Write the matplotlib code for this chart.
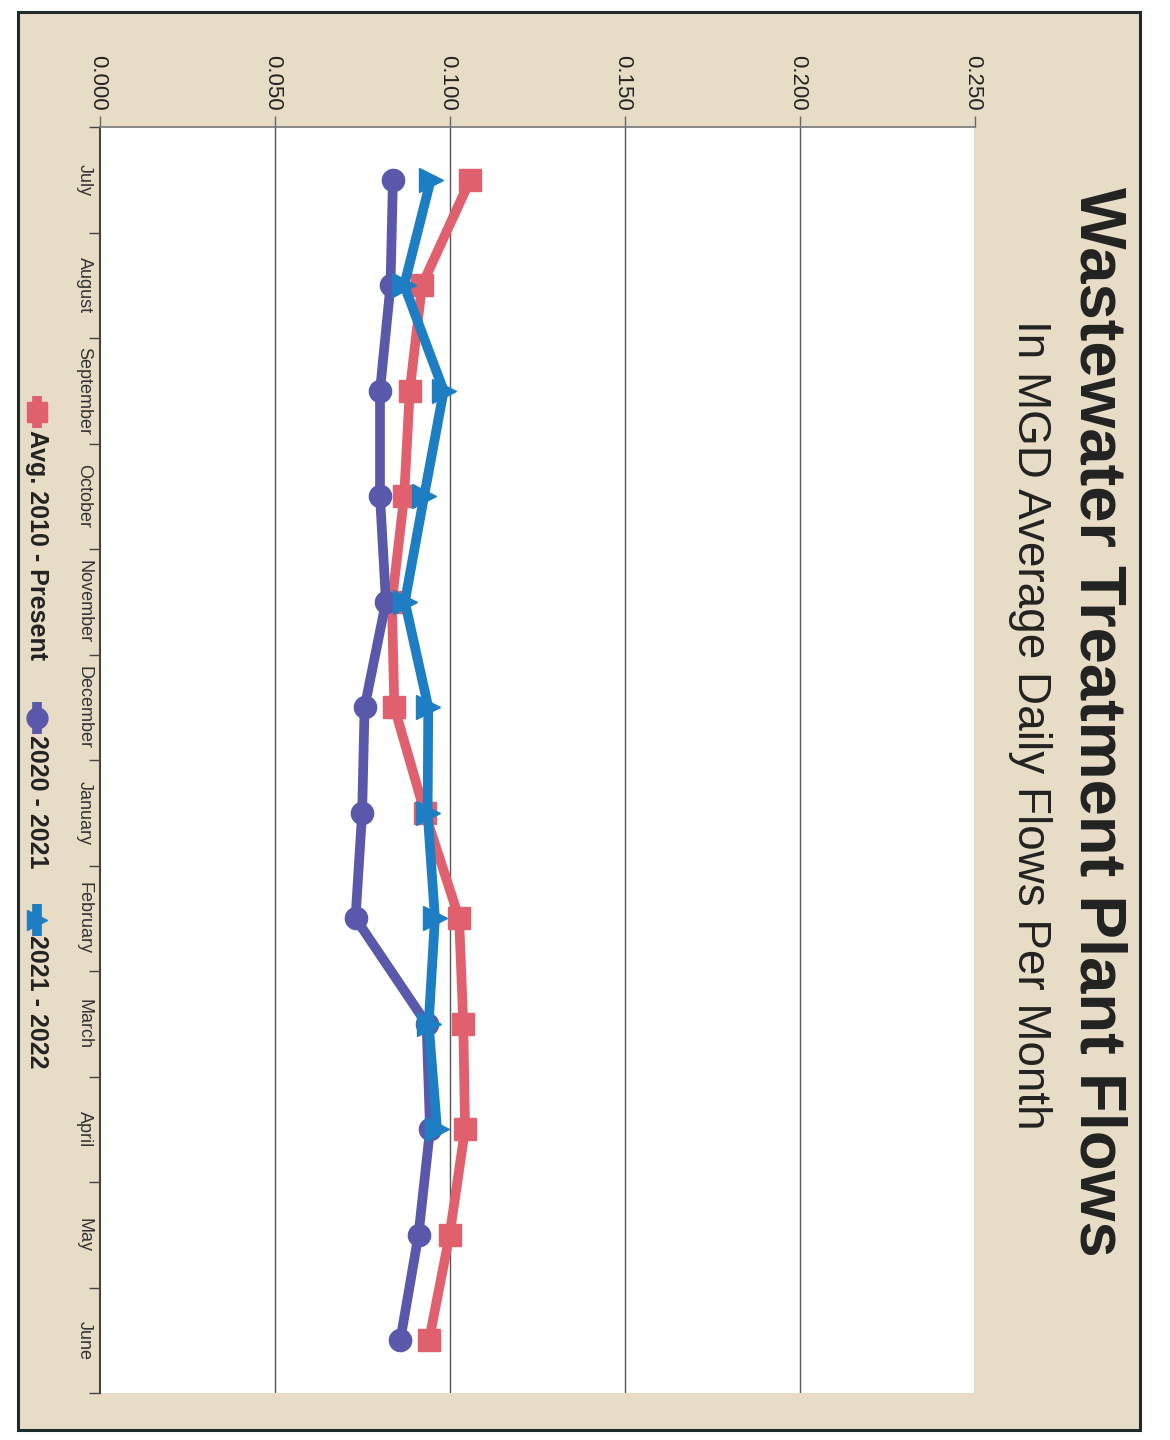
import matplotlib
matplotlib.use("Agg")
import matplotlib.pyplot as plt
from matplotlib.patches import Rectangle
from matplotlib.lines import Line2D

plt.rcParams['font.family'] = ['Liberation Sans', 'DejaVu Sans']

# ---------------- data ----------------
months = ["July", "August", "September", "October", "November", "December",
          "January", "February", "March", "April", "May", "June"]
avg_2010_present = [0.1058, 0.0920, 0.0885, 0.0869, 0.0834, 0.0841,
                    0.0928, 0.1026, 0.1038, 0.1043, 0.0999, 0.0940]
fy_2020_2021 = [0.0837, 0.0830, 0.0800, 0.0800, 0.0817, 0.0756,
                0.0749, 0.0730, 0.0933, 0.0943, 0.0910, 0.0858]
fy_2021_2022 = [0.0945, 0.0869, 0.0982, 0.0926, 0.0871, 0.0938,
                0.0936, 0.0957, 0.0939, 0.0963]
value_ticks = [0.0, 0.05, 0.10, 0.15, 0.20, 0.25]
value_tick_labels = ["0.000", "0.050", "0.100", "0.150", "0.200", "0.250"]
series_names = ["Avg. 2010 - Present", "2020 - 2021", "2021 - 2022"]
title = "Wastewater Treatment Plant Flows"
subtitle = "In MGD Average Daily Flows Per Month"

# ---------------- style ----------------
W, H = 1170, 1440
RED = "#e0606e"
PURPLE = "#5a58aa"
BLUE = "#1e7ec4"
BEIGE = "#e7dcc5"

fig = plt.figure(figsize=(W / 100, H / 100), dpi=100)
fig.patch.set_facecolor("white")

# background / frame layer in pixel coordinates
bg = fig.add_axes([0, 0, 1, 1], zorder=0)
bg.set_xlim(0, W)
bg.set_ylim(H, 0)
bg.axis("off")
bg.add_patch(Rectangle((18, 12), 1122, 1418, facecolor=BEIGE,
                       edgecolor="#1f2a2a", linewidth=2.2))

# main chart (rotated: values on x, months downwards on y)
px_l, px_r, px_t, px_b = 100, 975, 127, 1393
ax = fig.add_axes([px_l / W, 1 - px_b / H, (px_r - px_l) / W, (px_b - px_t) / H],
                  zorder=1)
ax.set_facecolor("white")
ax.set_xlim(0, 0.25)
ax.set_ylim(len(months) - 0.5, -0.5)

ypos = list(range(len(months)))

ax.plot(avg_2010_present, ypos, color=RED, lw=7, marker="s", ms=16,
        solid_joinstyle="round", zorder=3)
ax.plot(fy_2020_2021, ypos, color=PURPLE, lw=7, marker="o", ms=16,
        solid_joinstyle="round", zorder=4)
ax.plot(fy_2021_2022, ypos[:len(fy_2021_2022)], color=BLUE, lw=7, marker=">",
        ms=17, solid_joinstyle="round", zorder=5)

# gridlines at value ticks
for v in value_ticks[1:]:
    ax.axvline(v, color="#555555", lw=1.0, zorder=1)

for s in ["right", "bottom"]:
    ax.spines[s].set_visible(False)
ax.spines["top"].set_color("#777777")
ax.spines["top"].set_linewidth(1.2)
ax.spines["left"].set_color("#444444")
ax.spines["left"].set_linewidth(1.5)

ax.xaxis.tick_top()
ax.set_xticks(value_ticks)
ax.set_xticklabels([])
ax.tick_params(axis="x", direction="out", length=8, color="#666666", width=1)
ax.set_yticks([i + 0.5 for i in range(-1, len(months))])
ax.set_yticklabels([])
ax.tick_params(axis="y", direction="out", length=8, color="#444444", width=1)

# value tick labels (rotated, reading top to bottom, ending above the axis)
for v, lab in zip(value_ticks, value_tick_labels):
    x_px = px_l + v / 0.25 * (px_r - px_l)
    bg.text(x_px - 2, 111, lab, rotation=270, ha="right", va="center",
            fontsize=16, color="#222222", rotation_mode="anchor")

# month labels (rotated)
for i, m in enumerate(months):
    y_px = px_t + (i + 0.5) * (px_b - px_t) / len(months)
    bg.text(84, y_px, m, rotation=270, ha="center", va="center",
            fontsize=13, color="#333333")

# title and subtitle
bg.text(1097, 722, title, rotation=270, ha="center", va="center",
        fontsize=47, fontweight="bold", color="#222222")
bg.text(1030, 725, subtitle, rotation=270, ha="center", va="center",
        fontsize=33, color="#222222")

# legend (rotated)
leg_x = 37
legend_items = [
    (RED, "s", series_names[0], 412, 430),
    (PURPLE, "o", series_names[1], 718, 735),
    (BLUE, ">", series_names[2], 920, 935),
]
for col, mk, name, ym, yt in legend_items:
    bg.add_line(Line2D([leg_x, leg_x], [ym - 16, ym + 16], color=col, lw=7,
                       solid_capstyle="butt"))
    bg.add_line(Line2D([leg_x], [ym], color=col, marker=mk, ms=15, lw=0))
    bg.text(leg_x, yt, name, rotation=270, ha="center", va="top",
            fontsize=18, fontweight="bold", color="#222222")

fig.savefig("out.png", dpi=100, facecolor=fig.get_facecolor())
